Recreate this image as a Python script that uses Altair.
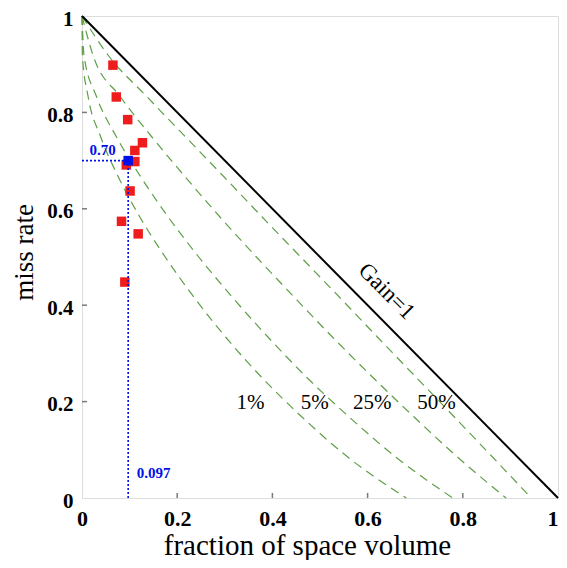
import altair as alt
import pandas as pd

# ---- data ----
miss_levels = [1, 0.917, 0.833, 0.75, 0.667, 0.583, 0.5, 0.417, 0.333, 0.25, 0.167, 0.083, 0]
frac_1 = [0, 0.0008, 0.0128, 0.0390, 0.0759, 0.1215, 0.1748, 0.2349, 0.3025, 0.3778, 0.4633, 0.5608, 0.6813]
frac_5 = [0, 0.0043, 0.0304, 0.0719, 0.1229, 0.1811, 0.2453, 0.3155, 0.3915, 0.4724, 0.5625, 0.6617, 0.7791]
frac_25 = [0, 0.0237, 0.0802, 0.1459, 0.2162, 0.2898, 0.3664, 0.4455, 0.5270, 0.6112, 0.6988, 0.7911, 0.8909]
frac_50 = [0, 0.0561, 0.1360, 0.2167, 0.2976, 0.3785, 0.4595, 0.5405, 0.6215, 0.7024, 0.7833, 0.8643, 0.9439]
level_names = ["1%", "5%", "25%", "50%"]

gain_x = [0, 1]
gain_y = [1, 0]

red_x = [0.065, 0.072, 0.096, 0.127, 0.111, 0.111, 0.093, 0.101, 0.083, 0.118, 0.090]
red_y = [0.898, 0.832, 0.785, 0.737, 0.721, 0.698, 0.691, 0.637, 0.574, 0.548, 0.448]

mean_x = [0.097]
mean_y = [0.70]
mean_x_label = ["0.097"]
mean_y_label = ["0.70"]

level_label_x = [0.354, 0.489, 0.610, 0.745]
level_label_y = [0.197, 0.197, 0.197, 0.197]

gain_label = ["Gain=1"]
gain_label_x = [0.640]
gain_label_y = [0.429]

tick_vals = [0.2, 0.4, 0.6, 0.8]
axis_vals = [0, 0.2, 0.4, 0.6, 0.8, 1]

# ---- styling ----
SERIF = "Liberation Serif"
AXIS_GRAY = "#7a7a7a"
GREEN = "#5f9e47"
RED = "#ee1c1c"
BLUE = "#0010e8"

xscale = alt.Scale(domain=[0, 1], nice=False, zero=False)
yscale = alt.Scale(domain=[0, 1], nice=False, zero=False)

xaxis = alt.Axis(
    title="fraction of space volume", values=axis_vals, format="~g",
    ticks=False, domain=False, grid=False,
    labelFont=SERIF, labelFontSize=22, labelFontWeight="bold", labelColor="black",
    labelPadding=10, labelFlush=False, labelOverlap=False,
    labelAlign={"condition": {"test": "datum.value == 1", "value": "right"}, "value": "center"},
    titleFont=SERIF, titleFontSize=29, titleFontWeight="normal", titleColor="black",
    titleX=225, titleY=56, titleBaseline="alphabetic", titleAlign="center",
)
yaxis = alt.Axis(
    title="miss rate", values=axis_vals, format="~g",
    ticks=False, domain=False, grid=False,
    labelFont=SERIF, labelFontSize=21, labelFontWeight="bold", labelColor="black",
    labelPadding=9, labelFlush=False, labelOverlap=False, labelOffset=3,
    titleFont=SERIF, titleFontSize=27, titleFontWeight="normal", titleColor="black",
    titleX=-50, titleY=236, titleBaseline="alphabetic", titleAlign="center", titleAngle=270,
)

X = alt.X("x:Q", scale=xscale, axis=xaxis)
Y = alt.Y("y:Q", scale=yscale, axis=yaxis)

rows = []
for name, fr in zip(level_names, [frac_1, frac_5, frac_25, frac_50]):
    for xv, yv in zip(fr, miss_levels):
        rows.append({"level": name, "x": xv, "y": yv})
curves_df = pd.DataFrame(rows)

curves = alt.Chart(curves_df).mark_line(
    color=GREEN, strokeWidth=1.2, strokeDash=[9, 6], interpolate="monotone"
).encode(x=X, y=Y, detail="level:N", order="x:Q")

gain = alt.Chart(pd.DataFrame({"x": gain_x, "y": gain_y})).mark_line(
    color="black", strokeWidth=2
).encode(x=X, y=Y)

xticks = alt.Chart(pd.DataFrame({"x": tick_vals})).mark_rule(
    color=AXIS_GRAY, strokeWidth=1.5
).encode(x=X, y=alt.value(482), y2=alt.value(477))

yticks = alt.Chart(pd.DataFrame({"y": tick_vals})).mark_rule(
    color=AXIS_GRAY, strokeWidth=1.5
).encode(y=Y, x=alt.value(0), x2=alt.value(5))

reds = alt.Chart(pd.DataFrame({"x": red_x, "y": red_y})).mark_square(
    size=90, color=RED, opacity=1
).encode(x=X, y=Y)

hline = alt.Chart(pd.DataFrame({"x": [0], "x2": mean_x, "y": mean_y})).mark_rule(
    color=BLUE, strokeDash=[2, 2], strokeWidth=1.6
).encode(x=X, x2="x2:Q", y=Y)

vline = alt.Chart(pd.DataFrame({"x": mean_x, "y": [0], "y2": mean_y})).mark_rule(
    color=BLUE, strokeDash=[2, 2], strokeWidth=1.6
).encode(x=X, y=Y, y2="y2:Q")

blue = alt.Chart(pd.DataFrame({"x": mean_x, "y": mean_y})).mark_square(
    size=90, color=BLUE, opacity=1
).encode(x=X, y=Y)

ylab = alt.Chart(pd.DataFrame({"x": [0.016], "y": [0.722], "t": mean_y_label})).mark_text(
    font=SERIF, fontSize=15, fontWeight="bold", color=BLUE, align="left", baseline="middle"
).encode(x=X, y=Y, text="t:N")

xlab = alt.Chart(pd.DataFrame({"x": [0.115], "y": [0.052], "t": mean_x_label})).mark_text(
    font=SERIF, fontSize=15, fontWeight="bold", color=BLUE, align="left", baseline="middle"
).encode(x=X, y=Y, text="t:N")

level_labels = alt.Chart(pd.DataFrame({"x": level_label_x, "y": level_label_y, "t": level_names})).mark_text(
    font=SERIF, fontSize=21, color="black", align="center", baseline="middle"
).encode(x=X, y=Y, text="t:N")

gain_text = alt.Chart(pd.DataFrame({"x": gain_label_x, "y": gain_label_y, "t": gain_label})).mark_text(
    font=SERIF, fontSize=23, color="black", align="center", baseline="middle", angle=45
).encode(x=X, y=Y, text="t:N")

chart = alt.layer(
    curves, gain, xticks, yticks, reds, hline, vline, blue, ylab, xlab, level_labels, gain_text
).properties(
    width=476, height=482,
    autosize=alt.AutoSizeParams(type="none"),
    padding={"left": 74, "top": 8, "right": 1, "bottom": 62},
).configure_view(
    stroke=AXIS_GRAY, strokeWidth=1.5
).configure(background="white")

chart.save("out.html", embed_options={"renderer": "svg", "actions": False})
